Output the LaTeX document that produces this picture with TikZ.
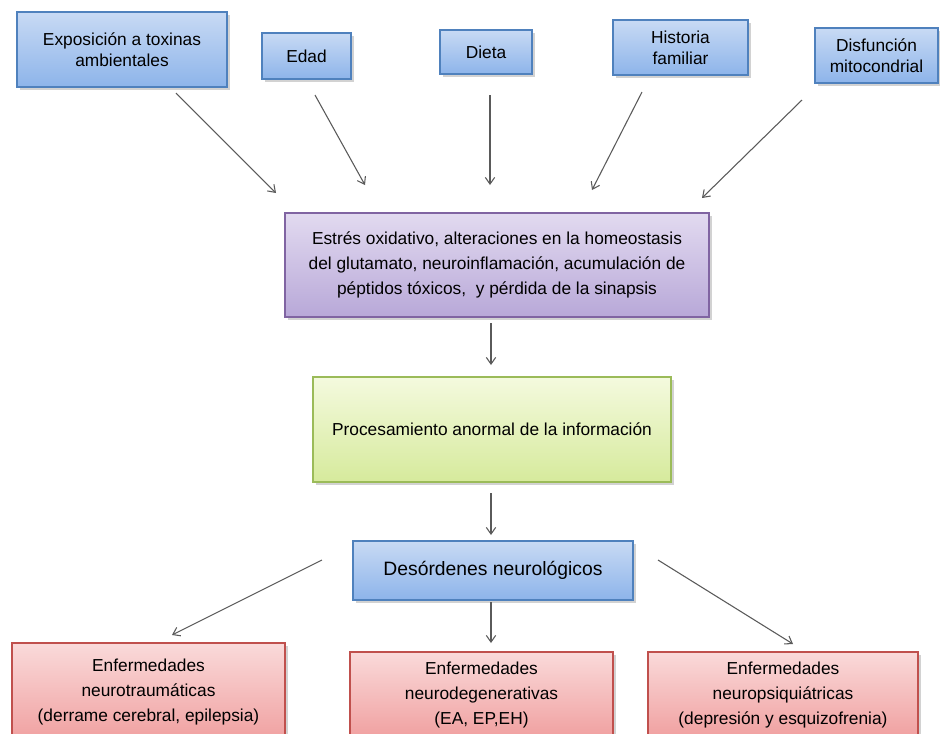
\documentclass[tikz,border=0pt]{standalone}
\usepackage{fontspec}
\setmainfont{Liberation Sans}
\usetikzlibrary{arrows.meta,shadows}
\definecolor{bBorder}{RGB}{79,129,189}
\definecolor{bTop}{RGB}{200,218,244}
\definecolor{bBot}{RGB}{141,180,234}
\definecolor{pBorder}{RGB}{128,100,162}
\definecolor{pTop}{RGB}{226,218,240}
\definecolor{pBot}{RGB}{184,168,216}
\definecolor{gBorder}{RGB}{155,187,89}
\definecolor{gTop}{RGB}{244,250,222}
\definecolor{gBot}{RGB}{214,234,156}
\definecolor{rBorder}{RGB}{192,80,77}
\definecolor{rTop}{RGB}{250,218,218}
\definecolor{rBot}{RGB}{240,160,160}
\definecolor{arrowgray}{RGB}{90,90,90}
\begin{document}
\begin{tikzpicture}[x=0.75pt,y=-0.75pt,
  box/.style={draw, line width=0.9pt, align=center, inner sep=0pt,
    font=\fontsize{13}{18.75}\selectfont,
    drop shadow={shadow xshift=2pt,shadow yshift=-2pt,opacity=0.35}},
  topfont/.style={font=\fontsize{13}{16}\selectfont},
  wh/.style 2 args={minimum width=#1*0.75pt, minimum height=#2*0.75pt},
  bluebox/.style={box, draw=bBorder, top color=bTop, bottom color=bBot},
  purplebox/.style={box, draw=pBorder, top color=pTop, bottom color=pBot},
  greenbox/.style={box, draw=gBorder, top color=gTop, bottom color=gBot},
  redbox/.style={box, draw=rBorder, top color=rTop, bottom color=rBot},
  arr/.style={draw=arrowgray, line width=0.8pt, -{Straight Barb[length=5pt,width=7pt]}}]
\useasboundingbox (0,0) rectangle (940,733);
\fill[white] (0,0) rectangle (940,733);
\begin{scope}
\clip (0,0) rectangle (940,733);
% top causes
\node[bluebox, topfont, wh={210}{75}] (expo) at (122,49.5) {Exposición a toxinas\\ambientales};
\node[bluebox, topfont, wh={89}{46}] (edad) at (306.5,56) {Edad};
\node[bluebox, topfont, wh={92}{44}] (dieta) at (486,52) {Dieta};
\node[bluebox, topfont, wh={135}{55}] (hist) at (680.5,47.5) {Historia\\familiar};
\node[bluebox, topfont, wh={123}{55}] (disf) at (876.5,55.5) {Disfunción\\mitocondrial};
% middle
\node[purplebox, wh={424}{104}] (estres) at (497,265) {Estrés oxidativo, alteraciones en la homeostasis\\del glutamato, neuroinflamación, acumulación de\\péptidos tóxicos, \ y pérdida de la sinapsis};
\node[greenbox, wh={358}{105}] (proc) at (492,429.5) {Procesamiento anormal de la información};
\node[bluebox, font=\fontsize{14.5}{18}\selectfont, wh={280}{59}] (desor) at (493,570.5) {Desórdenes neurológicos};
% bottom
\node[redbox, wh={273}{98}] (neurot) at (148.5,692) {Enfermedades\\neurotraumáticas\\(derrame cerebral, epilepsia)};
\node[redbox, wh={263}{86}] (neurod) at (481.5,695) {Enfermedades\\neurodegenerativas\\(EA, EP,EH)};
\node[redbox, wh={270}{86}] (neurop) at (783,695) {Enfermedades\\neuropsiquiátricas\\(depresión y esquizofrenia)};
\end{scope}
% connector end points
\coordinate (a1s) at (176,93);  \coordinate (a1e) at (276,193);
\coordinate (a2s) at (315,95);  \coordinate (a2e) at (365,185);
\coordinate (a3s) at (490,95);  \coordinate (a3e) at (490,185);
\coordinate (a4s) at (642,92);  \coordinate (a4e) at (592,190);
\coordinate (a5s) at (802,100); \coordinate (a5e) at (702,198);
\coordinate (b1s) at (491,323); \coordinate (b1e) at (491,365);
\coordinate (c1s) at (491,493); \coordinate (c1e) at (491,535);
\coordinate (d1s) at (322,560); \coordinate (d1e) at (172,635);
\coordinate (d2s) at (491,602); \coordinate (d2e) at (491,643);
\coordinate (d3s) at (658,560); \coordinate (d3e) at (793,644);
\draw[arr] (a1s) -- (a1e);
\draw[arr] (a2s) -- (a2e);
\draw[arr] (a3s) -- (a3e);
\draw[arr] (a4s) -- (a4e);
\draw[arr] (a5s) -- (a5e);
\draw[arr] (b1s) -- (b1e);
\draw[arr] (c1s) -- (c1e);
\draw[arr] (d1s) -- (d1e);
\draw[arr] (d2s) -- (d2e);
\draw[arr] (d3s) -- (d3e);
\end{tikzpicture}
\end{document}
